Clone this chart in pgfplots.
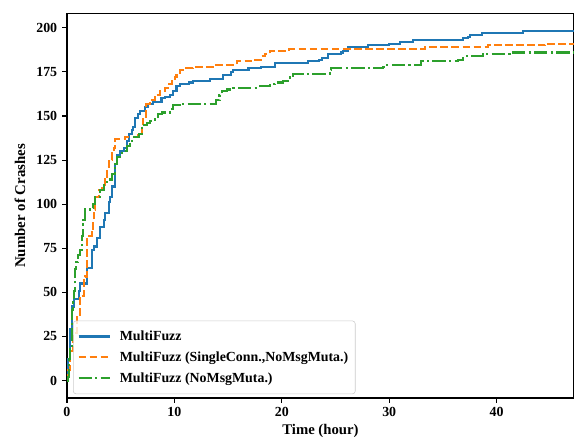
\documentclass[border=0pt]{standalone}
\usepackage{pgfplots}
\pgfplotsset{compat=1.18}
\usepackage{fontspec}
\setmainfont{Liberation Serif}
\definecolor{tabblue}{HTML}{1F77B4}
\definecolor{taborange}{HTML}{FF7F0E}
\definecolor{tabgreen}{HTML}{2CA02C}
\begin{document}
\begin{tikzpicture}
\path[use as bounding box] (-48.2pt,-31.7pt) rectangle (365pt,286.5pt);
\begin{axis}[
  scale only axis,
  width=365pt, height=276.5pt,
  xmin=0, xmax=47.2, ymin=-9.9, ymax=207.9,
  xtick={0,10,20,30,40},
  ytick={0,25,50,75,100,125,150,175,200},
  tick align=outside,
  xtick pos=lower, ytick pos=left,
  major tick length=3.5pt,
  every tick/.style={black, line width=0.8pt},
  axis line style={black, line width=0.8pt},
  /pgf/number format/assume math mode=true,
  tick label style={font=\bfseries},
  xlabel={\bfseries Time (hour)},
  ylabel={\bfseries Number of Crashes},
  xlabel style={yshift=1.5pt, font=\fontsize{10.6}{12}\selectfont},
  ylabel style={yshift=1pt, font=\fontsize{10.7}{12}\selectfont},
  legend cell align=left,
  legend style={at={(0.012,0.01)}, anchor=south west, draw=black!20,
    rounded corners=2pt, fill=white, fill opacity=0.8, text opacity=1,
    font=\bfseries, row sep=2.6pt, inner xsep=3pt, inner ysep=5pt},
  legend image code/.code={\draw[#1] (0pt,0pt) -- (23pt,0pt); \path (27pt,0pt);},
]
\addplot[const plot, tabblue, line width=1.5pt] coordinates {
(0,0) (0.1,12) (0.28,29) (0.47,42) (0.65,46) (1.1,51) (1.2,55) (1.85,64)
(2.3,74) (2.48,76) (2.79,81) (3.1,87) (3.41,91) (3.56,95) (3.88,101)
(4.03,104) (4.19,110) (4.44,115) (4.49,123) (4.65,128) (4.96,130) (5.27,132)
(5.58,136) (5.74,140) (6.05,142) (6.17,144) (6.33,149) (6.63,151) (6.79,153)
(7.26,155) (7.56,157) (8.03,158) (8.8,160) (9.1,161) (9.58,162) (9.9,164)
(10.2,167) (10.5,168) (11.4,169) (11.75,170) (13.3,171) (14.5,173) (15.3,175)
(15.47,176) (16.9,177) (18.1,178) (19.35,180) (22.45,181) (23.5,182) (23.7,183)
(24.3,185) (25.55,186) (25.7,187) (26.2,189) (28.0,190) (30.0,191) (31.0,192)
(32.2,193) (36.9,194) (37.3,195) (37.5,196) (38.6,197) (42.45,198) (47.2,198)
};
\addlegendentry{MultiFuzz}
\addplot[const plot, taborange, line width=1.5pt, dash pattern=on 5.55pt off 2.4pt] coordinates {
(0,0) (0.12,6) (0.3,17) (0.59,27) (0.9,36) (1.2,48) (1.55,57) (1.67,59)
(1.83,68) (1.85,82) (2.3,84) (2.4,91) (2.48,97) (2.63,104) (2.95,108)
(3.26,110) (3.5,115) (3.72,121) (3.88,125) (4.19,129) (4.34,132) (4.49,137)
(5.42,138) (6.6,139) (6.95,144) (7.1,149) (7.4,157) (7.7,159) (8.2,162)
(8.65,164) (9.1,166) (9.4,168) (9.74,170) (10.05,172) (10.2,174) (10.5,176)
(11.1,177) (11.75,178) (13.9,179) (15.8,181) (17.5,182) (18.1,184) (18.4,185)
(18.9,187) (20.7,188) (33.3,189) (39.2,190) (44.5,191) (47.2,191)
};
\addlegendentry{MultiFuzz (SingleConn.,NoMsgMuta.)}
\addplot[const plot, tabgreen, line width=1.5pt, dash pattern=on 9.6pt off 2.4pt on 1.5pt off 2.4pt] coordinates {
(0,0) (0.09,2) (0.21,12) (0.31,18) (0.47,27) (0.5,40) (0.55,46) (0.62,51)
(0.74,63) (0.87,67) (1.02,71) (1.24,74) (1.37,82) (1.52,91) (1.67,97)
(2.14,98) (2.45,100) (2.63,104) (3.1,108) (3.41,111) (3.72,114) (4.19,117)
(4.49,123) (4.65,127) (5.12,130) (5.58,133) (5.89,136) (6.2,138) (6.67,140)
(6.95,145) (7.41,146) (7.72,147) (8.03,148) (8.5,151) (8.81,152) (9.58,154)
(9.9,156) (10.8,157) (13.9,159) (14.2,162) (14.4,164) (14.86,165) (15.5,166)
(17.95,167) (18.9,168) (19.35,169) (20.1,170) (20.74,172) (21.05,174)
(24.47,176) (24.6,177) (29.4,178) (29.7,179) (33.0,181) (36.4,182) (36.9,184)
(38.7,185) (41.2,186) (47.2,186)
};
\addlegendentry{MultiFuzz (NoMsgMuta.)}
\end{axis}
\end{tikzpicture}
\end{document}
